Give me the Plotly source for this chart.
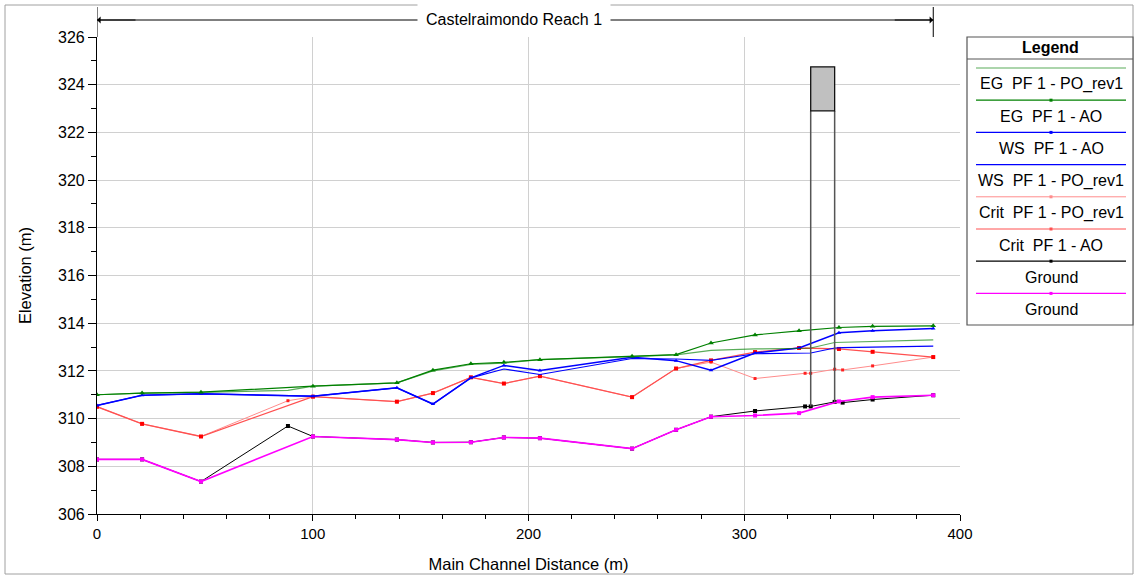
import plotly.graph_objects as go

# ---------------- data ----------------
sta_ao = [0, 20.9, 48.2, 100.1, 139.0, 155.7, 173.3, 188.6, 205.3, 248.0, 268.4, 284.6,
          305.0, 325.4, 343.9, 359.5, 387.6]
sta_po = [0, 20.9, 48.2, 88.5, 100.1, 139.0, 155.7, 173.3, 188.6, 205.3, 248.0, 268.4,
          284.6, 305.0, 328.2, 330.8, 341.9, 345.6, 359.5, 387.6]

eg_ao = [311.0, 311.07, 311.11, 311.36, 311.5, 312.03, 312.30, 312.36, 312.47, 312.61, 312.68,
         313.17, 313.51, 313.68, 313.82, 313.87, 313.89]
ws_ao = [310.55, 310.98, 311.04, 310.94, 311.29, 310.61, 311.71, 312.23, 312.02, 312.57, 312.43,
         312.03, 312.75, 312.96, 313.6, 313.68, 313.78]
crit_ao = [310.5, 309.78, 309.25, 310.92, 310.71, 311.07, 311.73, 311.47, 311.78, 310.9, 312.1,
           312.44, 312.79, 312.96, 312.92, 312.8, 312.58]
ground_ao = [308.29, 308.29, 307.36, 309.25, 309.12, 309.0, 309.01, 309.21, 309.18, 308.74, 309.53,
             310.08, 310.13, 310.23, 310.72, 310.9, 310.98]

eg_po = [311.0, 311.07, 311.1, 311.18, 311.36, 311.5, 312.0, 312.27, 312.33, 312.47, 312.6, 312.67,
         312.86, 312.92, 312.95, 312.96, 313.19, 313.2, 313.24, 313.3]
ws_po = [310.55, 310.98, 311.04, 310.96, 310.94, 311.29, 310.61, 311.71, 312.08, 311.85, 312.52,
         312.5, 312.44, 312.72, 312.76, 312.75, 312.96, 312.98, 313.0, 313.04]
crit_po = [310.5, 309.78, 309.25, 310.75, 310.92, 310.71, 311.07, 311.73, 311.47, 311.78, 310.9,
           312.1, 312.37, 311.68, 311.9, 311.9, 312.07, 312.04, 312.21, 312.58]
ground_po = [308.29, 308.29, 307.36, 309.69, 309.25, 309.12, 309.0, 309.01, 309.21, 309.18, 308.74,
             309.53, 310.08, 310.32, 310.51, 310.51, 310.7, 310.67, 310.8, 310.98]

# bridge (PO_rev1)
bridge_us = 330.8
bridge_ds = 341.9
bridge_high_chord = 324.75
bridge_low_chord = 322.9
bridge_ground_us = 310.51
bridge_ground_ds = 310.7

reach_name = "Castelraimondo Reach 1"
legend_labels = ["EG\u00a0 PF 1 - PO_rev1", "EG\u00a0 PF 1 - AO", "WS\u00a0 PF 1 - AO",
                 "WS\u00a0 PF 1 - PO_rev1", "Crit\u00a0 PF 1 - PO_rev1", "Crit\u00a0 PF 1 - AO",
                 "Ground", "Ground"]

x_ticks = [0, 100, 200, 300, 400]
y_ticks = list(range(306, 327, 2))

# ---------------- styles ----------------
FONT = "Arial, 'Liberation Sans', sans-serif"
c_eg_po = "rgba(0,128,0,0.65)"
c_eg_ao = "#008000"
c_ws = "#0000ff"
c_crit_po = "#ff8c8c"
c_crit_ao = "#ff5050"
c_gr_po = "#000000"
c_gr_ao = "#ff00ff"

legend_styles = [
    (c_eg_po, 1.2, False), (c_eg_ao, 1.2, True), (c_ws, 1.2, True), (c_ws, 1.2, False),
    (c_crit_po, 1.0, True), (c_crit_ao, 1.0, True), (c_gr_po, 1.2, True), (c_gr_ao, 1.2, True),
]

L, R, T, B = 97, 960, 37, 514
W, H = 1134, 575


def px(x):
    return (x - L) / (R - L)


def py(y):
    return (B - y) / (B - T)


fig = go.Figure()

fig.add_trace(go.Scatter(x=sta_po, y=ground_po, mode="lines+markers",
                         line=dict(color=c_gr_po, width=1.0),
                         marker=dict(symbol="square", size=4, color=c_gr_po)))
fig.add_trace(go.Scatter(x=sta_ao, y=ground_ao, mode="lines+markers",
                         line=dict(color=c_gr_ao, width=1.6),
                         marker=dict(symbol="square", size=4, color=c_gr_ao)))
fig.add_trace(go.Scatter(x=sta_po, y=crit_po, mode="lines+markers",
                         line=dict(color=c_crit_po, width=1.0),
                         marker=dict(symbol="square", size=3, color="#ff2020")))
fig.add_trace(go.Scatter(x=sta_ao, y=crit_ao, mode="lines+markers",
                         line=dict(color=c_crit_ao, width=1.3),
                         marker=dict(symbol="square", size=4, color="#ff0000")))
fig.add_trace(go.Scatter(x=sta_po, y=ws_po, mode="lines",
                         line=dict(color=c_ws, width=1.2)))
fig.add_trace(go.Scatter(x=sta_ao, y=ws_ao, mode="lines+markers",
                         line=dict(color=c_ws, width=1.5),
                         marker=dict(symbol="triangle-up", size=4, color=c_ws)))
fig.add_trace(go.Scatter(x=sta_po, y=eg_po, mode="lines",
                         line=dict(color=c_eg_po, width=1.2)))
fig.add_trace(go.Scatter(x=sta_ao, y=eg_ao, mode="lines+markers",
                         line=dict(color=c_eg_ao, width=1.2),
                         marker=dict(symbol="triangle-up", size=5, color=c_eg_ao)))

shapes = []
shapes.append(dict(type="line", xref="x", yref="y", x0=bridge_us, x1=bridge_us,
                   y0=bridge_ground_us, y1=bridge_low_chord, line=dict(color="#555555", width=1.5)))
shapes.append(dict(type="line", xref="x", yref="y", x0=bridge_ds, x1=bridge_ds,
                   y0=bridge_ground_ds, y1=bridge_low_chord, line=dict(color="#555555", width=1.5)))
shapes.append(dict(type="rect", xref="x", yref="y", x0=bridge_us, x1=bridge_ds,
                   y0=bridge_low_chord, y1=bridge_high_chord, fillcolor="#c0c0c0",
                   line=dict(color="#111111", width=1.3)))

reach_end = sta_po[-1]
y_bar = py(20)
for xv in (0, reach_end):
    shapes.append(dict(type="line", xref="x", yref="paper", x0=xv, x1=xv, y0=py(37), y1=py(7),
                       line=dict(color="black", width=1)))
shapes.append(dict(type="line", xref="x", yref="paper", x0=0, x1=reach_end, y0=y_bar, y1=y_bar,
                   line=dict(color="black", width=1)))

shapes.append(dict(type="rect", xref="paper", yref="paper", x0=px(5), x1=px(1133), y0=py(574), y1=py(5),
                   line=dict(color="#a0a0a0", width=1), layer="below"))

lx0, lx1, ly0, ly1 = 967, 1133, 37, 325
shapes.append(dict(type="rect", xref="paper", yref="paper", x0=px(lx0), x1=px(lx1), y0=py(ly1), y1=py(ly0),
                   line=dict(color="#555555", width=1.2), fillcolor="white"))
shapes.append(dict(type="line", xref="paper", yref="paper", x0=px(lx0), x1=px(lx1), y0=py(59), y1=py(59),
                   line=dict(color="#555555", width=1)))

annotations = []
annotations.append(dict(xref="paper", yref="paper", x=px(1050), y=py(47), text="<b>Legend</b>",
                         showarrow=False, font=dict(family=FONT, size=16, color="black"),
                         xanchor="center", yanchor="middle"))
row_h = 32.2
for i, (lab, (col, wd, mk)) in enumerate(zip(legend_labels, legend_styles)):
    yl = 68 + row_h * i
    yt = 84 + row_h * i
    shapes.append(dict(type="line", xref="paper", yref="paper", x0=px(976), x1=px(1126),
                       y0=py(yl), y1=py(yl), line=dict(color=col, width=wd)))
    if mk:
        shapes.append(dict(type="rect", xref="paper", yref="paper", x0=px(1049.5), x1=px(1052.5),
                           y0=py(yl + 1.5), y1=py(yl - 1.5), line=dict(width=0), fillcolor=col))
    annotations.append(dict(xref="paper", yref="paper", x=px(1051), y=py(yt), text=lab,
                             showarrow=False, font=dict(family=FONT, size=16, color="black"),
                             xanchor="center", yanchor="middle"))

annotations.append(dict(xref="paper", yref="paper", x=px(514), y=y_bar, text=reach_name,
                         showarrow=False, bgcolor="white", borderpad=8,
                         font=dict(family=FONT, size=16, color="black"),
                         xanchor="center", yanchor="middle"))
annotations.append(dict(xref="x", yref="paper", x=0, y=y_bar, ax=40, ay=0, text="",
                         showarrow=True, arrowhead=1, arrowsize=1.2, arrowwidth=1, arrowcolor="black"))
annotations.append(dict(xref="x", yref="paper", x=reach_end, y=y_bar, ax=-40, ay=0, text="",
                         showarrow=True, arrowhead=1, arrowsize=1.2, arrowwidth=1, arrowcolor="black"))

fig.update_layout(
    width=W, height=H,
    margin=dict(l=L, r=W - R, t=T, b=H - B, pad=0, autoexpand=False),
    paper_bgcolor="white", plot_bgcolor="white",
    showlegend=False,
    font=dict(family=FONT, size=14, color="black"),
    shapes=shapes, annotations=annotations,
    xaxis=dict(range=[0, 400], tickvals=x_ticks, ticktext=[str(v) for v in x_ticks],
               showgrid=True, gridcolor="#d0d0d0", gridwidth=1.3,
               showline=True, linecolor="black", linewidth=1.2,
               ticks="outside", ticklen=6, tickcolor="black",
               minor=dict(dtick=20, ticks="outside", ticklen=4, tickcolor="black", showgrid=False),
               zeroline=False, automargin=False,
               title=dict(text="Main Channel Distance (m)", standoff=17, font=dict(size=16.5)),
               tickfont=dict(size=15)),
    yaxis=dict(range=[306, 326], tickvals=y_ticks, ticktext=[str(v) for v in y_ticks],
               showgrid=True, gridcolor="#d0d0d0", gridwidth=1.3,
               showline=True, linecolor="black", linewidth=1.2,
               ticks="outside", ticklen=8, tickcolor="black",
               minor=dict(dtick=1, ticks="outside", ticklen=5, tickcolor="black", showgrid=False),
               zeroline=False, automargin=False,
               title=dict(text="Elevation (m)", standoff=22, font=dict(size=16.5)),
               tickfont=dict(size=16)),
)

fig.write_html("out.html")
